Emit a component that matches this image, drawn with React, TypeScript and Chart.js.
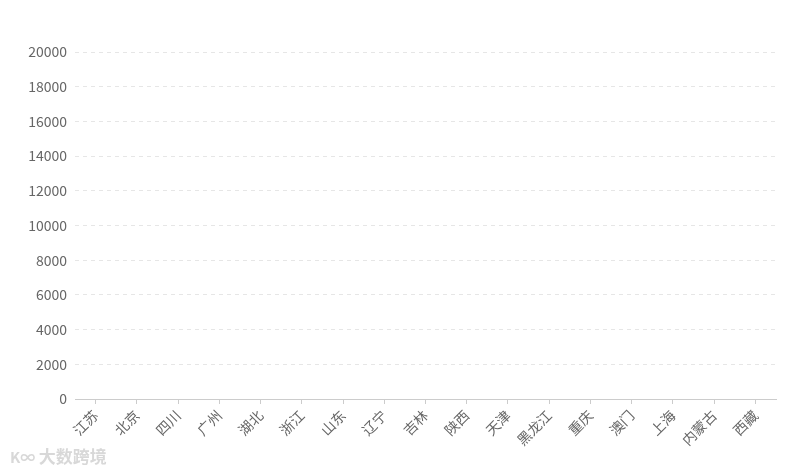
import React, { useEffect, useRef } from "react";
import { Chart, registerables } from "chart.js";

Chart.register(...registerables);

const categories = ["江苏", "北京", "四川", "广州", "湖北", "浙江", "山东", "辽宁", "吉林", "陕西", "天津", "黑龙江", "重庆", "澳门", "上海", "内蒙古", "西藏"];
const values = [0, 0, 0, 0, 0, 0, 0, 0, 0, 0, 0, 0, 0, 0, 0, 0, 0];
const yMax = 20000;
const yStep = 2000;

export default function App() {
  const ref = useRef<HTMLCanvasElement | null>(null);
  useEffect(() => {
    document.body.style.margin = "0";
    const font = "'Noto Sans CJK SC', 'Noto Sans', sans-serif";
    const chart = new Chart(ref.current!, {
      type: "bar",
      data: {
        labels: categories,
        datasets: [{ data: values, backgroundColor: "#5470c6", borderWidth: 0, barPercentage: 0.6, categoryPercentage: 1 }],
      },
      options: {
        animation: false,
        responsive: false,
        maintainAspectRatio: false,
        layout: { padding: { left: 0, right: 24, top: 52, bottom: 0 } },
        plugins: { legend: { display: false }, tooltip: { enabled: false } },
        scales: {
          x: {
            offset: true,
            grid: { offset: false, drawOnChartArea: false, drawTicks: true, tickLength: 5, color: "#cccccc" },
            border: { display: true, color: "#cccccc" },
            ticks: { color: "#666666", font: { family: font, size: 14 }, minRotation: 45, maxRotation: 45, padding: 3, autoSkip: false },
            afterFit: (s: any) => { s.height = 71; },
          },
          y: {
            min: 0,
            max: yMax,
            ticks: { stepSize: yStep, color: "#666666", font: { family: font, size: 14 }, padding: 8, callback: (v: any) => String(v) },
            grid: { color: "#e6e6e6", drawTicks: false },
            border: { display: false, dash: [4, 4] },
            afterFit: (s: any) => { s.width = 75; },
          },
        },
      },
    });
    return () => chart.destroy();
  }, []);
  return (
    <div style={{ position: "relative", width: 800, height: 470 }}>
      <canvas ref={ref} width={800} height={470} style={{ display: "block" }} />
      <div style={{ position: "absolute", left: 10, top: 443, color: "#d8d8d8", fontFamily: "'Noto Sans CJK SC', sans-serif", fontSize: 17, fontWeight: 700 }}>
        <span style={{ fontSize: 15 }}>K∞ </span>大数跨境
      </div>
    </div>
  );
}
